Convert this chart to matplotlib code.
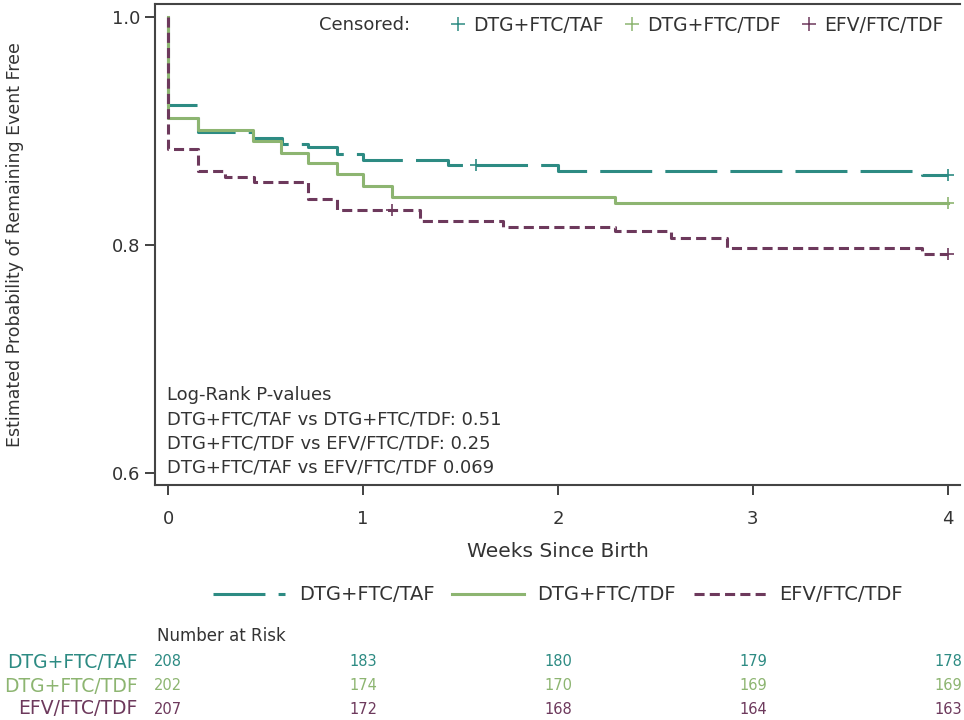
import numpy as np
import matplotlib
matplotlib.use("Agg")
import matplotlib.pyplot as plt
from matplotlib.lines import Line2D

plt.rcParams['font.family'] = ['DejaVu Sans']

# KM step data (weeks, survival)
taf_t = [0, 0.0, 0.152, 0.437, 0.583, 0.72, 0.865, 1.0, 1.434, 2.0, 3.865, 4.0]
taf_s = [1.0, 0.923, 0.899, 0.894, 0.889, 0.886, 0.880, 0.875, 0.870, 0.865, 0.861, 0.861]
tdf_t = [0, 0.0, 0.152, 0.437, 0.58, 0.72, 0.865, 1.0, 1.15, 2.29, 4.0]
tdf_s = [1.0, 0.911, 0.901, 0.891, 0.881, 0.872, 0.862, 0.852, 0.842, 0.837, 0.837]
efv_t = [0, 0.0, 0.152, 0.292, 0.443, 0.72, 0.865, 1.292, 1.72, 2.29, 2.58, 2.865, 3.868, 4.0]
efv_s = [1.0, 0.884, 0.865, 0.860, 0.855, 0.840, 0.831, 0.821, 0.816, 0.812, 0.806, 0.797, 0.792, 0.792]

# censored points
taf_cens_t = [1.578, 4.0]
taf_cens_s = [0.870, 0.861]
tdf_cens_t = [4.0]
tdf_cens_s = [0.837]
efv_cens_t = [1.15, 4.0]
efv_cens_s = [0.831, 0.792]

groups = ["DTG+FTC/TAF", "DTG+FTC/TDF", "EFV/FTC/TDF"]
risk_weeks = [0, 1, 2, 3, 4]
risk_taf = [208, 183, 180, 179, 178]
risk_tdf = [202, 174, 170, 169, 169]
risk_efv = [207, 172, 168, 164, 163]

pvals = ["Log-Rank P-values",
         "DTG+FTC/TAF vs DTG+FTC/TDF: 0.51",
         "DTG+FTC/TDF vs EFV/FTC/TDF: 0.25",
         "DTG+FTC/TAF vs EFV/FTC/TDF 0.069"]

c_taf = "#2d8b83"
c_tdf = "#8db571"
c_efv = "#6d395c"
txt = "#333333"

fig = plt.figure(figsize=(9.64, 7.2), dpi=100)
ax = fig.add_axes([155/964, 1-485/720, (960-155)/964, (485-4)/720])

lw = 2.2
dash_taf = (0, (17, 4.3))
dash_efv = (0, (3.3, 1.7))
ax.step(taf_t, taf_s, where="post", color=c_taf, lw=lw, linestyle=dash_taf)
ax.step(tdf_t, tdf_s, where="post", color=c_tdf, lw=lw, linestyle="-")
ax.step(efv_t, efv_s, where="post", color=c_efv, lw=lw, linestyle=dash_efv)

ax.plot(taf_cens_t, taf_cens_s, "+", color=c_taf, ms=9, mew=1.2)
ax.plot(tdf_cens_t, tdf_cens_s, "+", color=c_tdf, ms=9, mew=1.2)
ax.plot(efv_cens_t, efv_cens_s, "+", color=c_efv, ms=9, mew=1.2)

ax.set_xlim(-0.0667, 4.062)
ax.set_ylim(0.5895, 1.0114)
ax.set_xticks([0, 1, 2, 3, 4])
ax.set_yticks([0.6, 0.8, 1.0])
ax.set_yticklabels(["0.6", "0.8", "1.0"])
ax.tick_params(labelsize=13, colors=txt, length=7, width=1.3)
ax.tick_params(axis="x", pad=11)
ax.spines["right"].set_visible(False)
for s in ["left", "bottom", "top"]:
    ax.spines[s].set_linewidth(1.5)
    ax.spines[s].set_color("#444444")
ax.set_xlabel("Weeks Since Birth", fontsize=14.5, color=txt)
ax.xaxis.set_label_coords((558-155)/805, -(542-485)/481)
ax.set_ylabel("Estimated Probability of Remaining Event Free", fontsize=12.5, color=txt)
ax.yaxis.set_label_coords((24-155)/805, 0.5)

for i, line in enumerate(pvals):
    ax.text(-0.005, 0.6 + (473 - 395 - 24 * i) / 1140, line, fontsize=13, color=txt,
            va="center", ha="left")

# censored legend
cens_handles = [Line2D([], [], color=c, marker="+", ls="", ms=10, mew=1.1) for c in (c_taf, c_tdf, c_efv)]
leg = ax.legend(cens_handles, groups, loc="center right", ncol=3, frameon=False, fontsize=13.5,
                handlelength=0.8, handletextpad=0.4, columnspacing=1.1,
                bbox_to_anchor=(1.0, 1 - (25-4)/481), labelcolor=txt)
ax.text((410-155)/805, 1 - (25-4)/481, "Censored:", transform=ax.transAxes, fontsize=13, color=txt,
        ha="right", va="center")

# bottom line legend
line_handles = [Line2D([], [], color=c_taf, lw=lw, linestyle=dash_taf),
                Line2D([], [], color=c_tdf, lw=lw),
                Line2D([], [], color=c_efv, lw=lw, linestyle=dash_efv)]
fig.legend(line_handles, groups, loc="center", ncol=3, frameon=False, fontsize=14,
           handlelength=3.7, handletextpad=0.7, columnspacing=0.9,
           bbox_to_anchor=(558/964, 1-595/720), labelcolor=txt)

# number at risk table
fig.text(157/964, 1-636/720, "Number at Risk", fontsize=12, color=txt, ha="left", va="center")
trans = matplotlib.transforms.blended_transform_factory(ax.transData, fig.transFigure)
rows = [(risk_taf, c_taf, 662), (risk_tdf, c_tdf, 686), (risk_efv, c_efv, 709)]
for (vals, col, ypx), name in zip(rows, groups):
    fig.text(138/964, 1-ypx/720, name, fontsize=13.5, color=col, ha="right", va="center")
    for w, v in zip(risk_weeks, vals):
        ax.text(w, 1-ypx/720, str(v), transform=trans, fontsize=10.5, color=col,
                ha="center", va="center", clip_on=False)

fig.savefig("out.png", dpi=100)
